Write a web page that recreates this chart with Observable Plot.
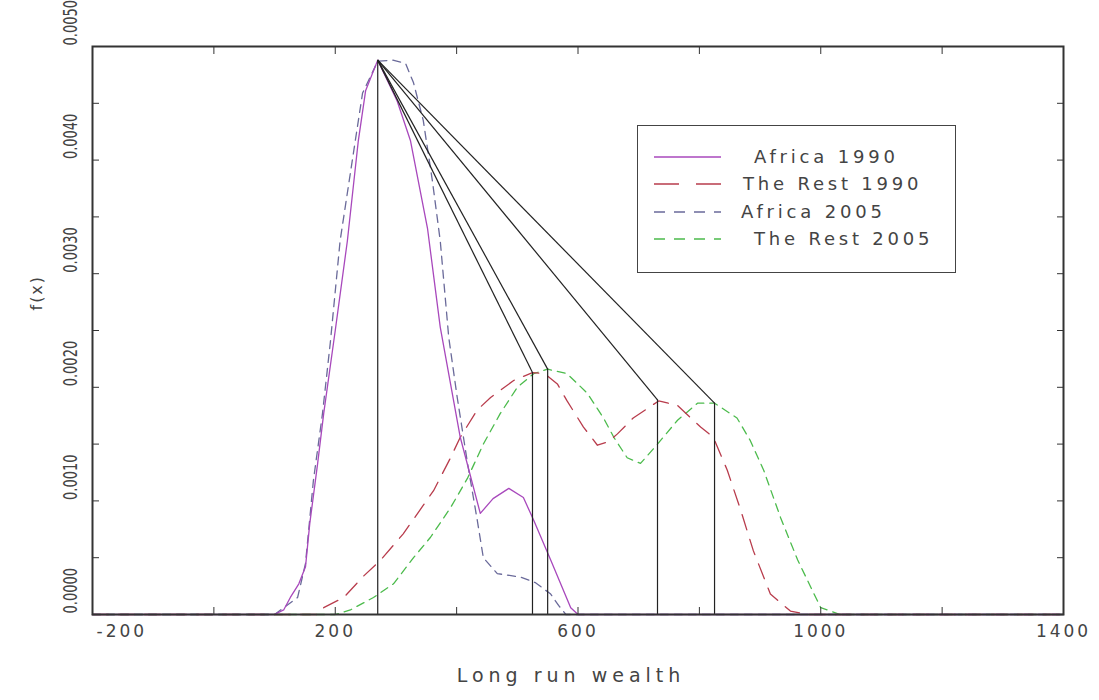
<!DOCTYPE html>
<html><head><meta charset="utf-8">
<script src="https://cdn.jsdelivr.net/npm/d3@7"></script>
<script src="https://cdn.jsdelivr.net/npm/@observablehq/plot@0.6"></script>
<style>
body{margin:0;background:#fff;}
#wrap{position:relative;width:1099px;height:700px;font-family:"DejaVu Sans",sans-serif;}
#legend{position:absolute;left:637px;top:125px;width:319px;height:148px;border:1.5px solid #444;box-sizing:border-box;background:#fff;}
</style></head><body><div id="wrap"></div>
<script>
// ---- data ----
const africa1990X = [-200,100,115,126,140,151,158,171,181,200,220,238,250,270,302,324,352,373,406,439,460,486,510,527,555,588,600,1400];
const africa1990Y = [0,0,0.00004,0.00015,0.00027,0.00042,0.0008,0.00133,0.00177,0.0025,0.00329,0.00417,0.00461,0.00488,0.00452,0.00417,0.0034,0.00253,0.00156,0.00089,0.00102,0.00111,0.00103,0.00083,0.00048,0.00006,0,0];

const rest1990X = [-200,170,181,214,247,275,312,362,390,406,434,456,494,525,545,566,582,609,632,650,665,691,733,764,802,823,846,868,889,917,950,978,1400];
const rest1990Y = [0,0,0.00006,0.00015,0.00034,0.00048,0.00071,0.00109,0.00138,0.00156,0.0018,0.00191,0.00206,0.00213,0.00212,0.00203,0.00188,0.00165,0.00149,0.00152,0.00159,0.00173,0.00188,0.00184,0.00165,0.00156,0.00127,0.00092,0.00056,0.00018,0.00003,0,0];

const africa2005X = [-200,100,115,138,151,164,179,192,208,233,245,270,295,316,329,345,360,373,387,401,418,434,444,467,505,530,555,568,580,1400];
const africa2005Y = [0,0,0.00006,0.00015,0.00045,0.00118,0.00177,0.0024,0.00329,0.00417,0.00459,0.00487,0.00488,0.00485,0.00468,0.00435,0.00382,0.00329,0.00244,0.00191,0.00133,0.00083,0.0005,0.00036,0.00033,0.00028,0.00018,0.00008,0,0];

const rest2005X = [-200,200,225,263,296,329,357,390,418,444,472,500,527,550,582,615,642,659,681,703,731,764,797,825,862,884,906,934,962,989,1000,1032,1400];
const rest2005Y = [0,0,0.00004,0.00015,0.00027,0.0005,0.00068,0.00094,0.0012,0.0015,0.00177,0.002,0.00212,0.00216,0.00212,0.00195,0.00173,0.00156,0.00138,0.00133,0.0015,0.00171,0.00186,0.00186,0.00173,0.00153,0.00127,0.00085,0.00048,0.00018,0.00006,0,0];

// modes connected by black lines
const peakX = 270, peakY = 0.00488;
const modeX = [525, 550, 731, 825];
const modeY = [0.00213, 0.00216, 0.00189, 0.00186];

const seriesNames = ["Africa 1990", "The Rest 1990", "Africa 2005", "The Rest 2005"];
const seriesColors = ["#a848bc", "#b83c4c", "#6a6a9a", "#4cbb4c"];
const seriesDash = [null, "16,10", "8,6", "8,6"];

const xTickValues = [-200,0,200,400,600,800,1000,1200,1400];
const xLabelValues = [-200,200,600,1000,1400];
const yTickValues = [0,0.0005,0.001,0.0015,0.002,0.0025,0.003,0.0035,0.004,0.0045,0.005];
const yLabelValues = [0,0.001,0.002,0.003,0.004,0.005];
const xTitle = "Long run wealth";
const yTitle = "f(x)";

// ---- build tables ----
const toRows = (xs, ys) => xs.map((x, i) => ({x, y: ys[i]}));
const series = [
  toRows(africa1990X, africa1990Y),
  toRows(rest1990X, rest1990Y),
  toRows(africa2005X, africa2005Y),
  toRows(rest2005X, rest2005Y)
];
const modes = modeX.map((x, i) => ({x, y: modeY[i]}));
const allModes = [{x: peakX, y: peakY}, ...modes];

const lineMarks = series.map((rows, i) => Plot.line(rows, {
  x: "x", y: "y", stroke: seriesColors[i], strokeWidth: 1.3,
  strokeDasharray: seriesDash[i] || undefined
}));
const ordered = [lineMarks[3], lineMarks[2], lineMarks[1], lineMarks[0]];
const yFmt = d => d.toFixed(4);

const chart = Plot.plot({
  width: 1099, height: 700,
  marginLeft: 92, marginRight: 36, marginTop: 46, marginBottom: 86,
  x: {domain: [-200, 1400]},
  y: {domain: [0, 0.005]},
  style: {fontFamily: "DejaVu Sans, sans-serif", background: "white", color: "#333", overflow: "visible"},
  marks: [
    ...ordered,
    Plot.ruleX(allModes, {x: "x", y1: 0, y2: "y", stroke: "#222", strokeWidth: 1.2}),
    Plot.link(modes, {x1: () => peakX, y1: () => peakY, x2: "x", y2: "y", stroke: "#222", strokeWidth: 1.2}),
    Plot.frame({stroke: "#333", strokeWidth: 2}),
    Plot.axisX(xTickValues, {anchor: "bottom", tickSize: -7, tickFormat: () => "", label: null, stroke: "#333"}),
    Plot.axisX(xTickValues, {anchor: "top", tickSize: -7, tickFormat: () => "", label: null, stroke: "#333"}),
    Plot.axisY(yTickValues, {anchor: "left", tickSize: -7, tickFormat: () => "", label: null, stroke: "#333"}),
    Plot.axisY(yTickValues, {anchor: "right", tickSize: -7, tickFormat: () => "", label: null, stroke: "#333"}),
    Plot.text(xLabelValues.slice(1), {x: d => d, frameAnchor: "bottom", dy: 22, text: d => String(d), fontSize: 17, fill: "#444"}),
    Plot.text(xLabelValues.slice(0, 1), {x: d => d, frameAnchor: "bottom", dy: 22, dx: 4, textAnchor: "start", text: d => String(d), fontSize: 17, fill: "#444"}),
    Plot.text(yLabelValues, {y: d => d, frameAnchor: "left", dx: -22, dy: -1, rotate: -90, textAnchor: "start", text: yFmt, fontSize: 13, fill: "#444"}),
    Plot.text([yTitle], {frameAnchor: "left", dx: -56, dy: -20, rotate: -90, text: d => d, fontSize: 16, fill: "#444"}),
    Plot.text([xTitle], {frameAnchor: "bottom", dy: 67, dx: -7, text: d => d, fontSize: 19, fill: "#444"})
  ]
});
const xLabelSet = new Set(xLabelValues.map(String));
const yLabelSet = new Set(yLabelValues.map(yFmt));
d3.select(chart).selectAll("text").each(function() {
  const t = this.textContent;
  const s = d3.select(this);
  if (xLabelSet.has(t)) s.attr("letter-spacing", "3px");
  else if (t === xTitle) s.attr("letter-spacing", "5px");
  else if (t === yTitle) s.attr("letter-spacing", "2px");
  else if (yLabelSet.has(t)) {
    const tr = this.getAttribute("transform") || "";
    if (tr.includes("rotate")) s.attr("transform", tr + " scale(1,1.45)");
  }
});

const wrap = document.getElementById("wrap");
wrap.appendChild(chart);

// ---- legend ----
const legend = document.createElement("div");
legend.id = "legend";
const rowY = [31, 58, 86, 113];
const textX = [116, 105, 103, 116];
const svgNS = "http://www.w3.org/2000/svg";
const lsvg = document.createElementNS(svgNS, "svg");
lsvg.setAttribute("width", "316");
lsvg.setAttribute("height", "145");
seriesNames.forEach((name, i) => {
  const ln = document.createElementNS(svgNS, "line");
  ln.setAttribute("x1", 16); ln.setAttribute("x2", 83);
  ln.setAttribute("y1", rowY[i]); ln.setAttribute("y2", rowY[i]);
  ln.setAttribute("stroke", seriesColors[i]);
  ln.setAttribute("stroke-width", 1.3);
  if (seriesDash[i]) ln.setAttribute("stroke-dasharray", i === 1 ? "25,17" : "11,9");
  lsvg.appendChild(ln);
  const tx = document.createElementNS(svgNS, "text");
  tx.setAttribute("x", textX[i]);
  tx.setAttribute("y", rowY[i]);
  tx.setAttribute("dy", "0.35em");
  tx.setAttribute("font-size", "18");
  tx.setAttribute("letter-spacing", "3.8");
  tx.setAttribute("fill", "#444");
  tx.setAttribute("font-family", "DejaVu Sans, sans-serif");
  tx.textContent = name;
  lsvg.appendChild(tx);
});
legend.appendChild(lsvg);
wrap.appendChild(legend);
</script>
</body></html>
